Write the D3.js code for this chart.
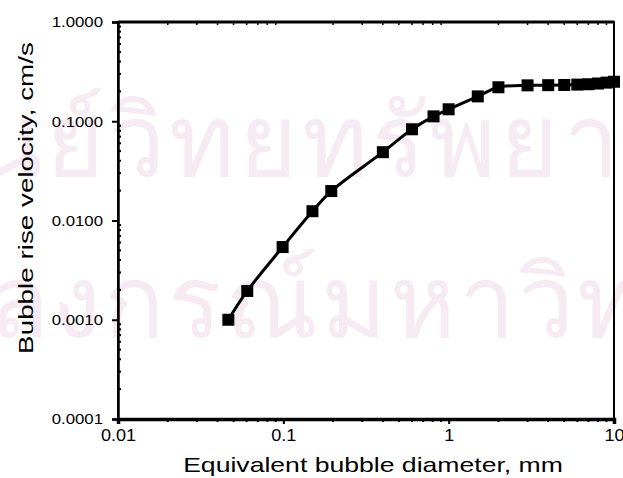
<!DOCTYPE html>
<html>
<head>
<meta charset="utf-8">
<script src="https://cdn.jsdelivr.net/npm/d3@7"></script>
<style>
  body { margin: 0; background: #fff; }
  text { font-family: "Liberation Sans", Arial, sans-serif; }
</style>
</head>
<body>
<script>
// bubble diameter (mm) and rise velocity (cm/s)
const diameter = [0.0465, 0.0605, 0.099, 0.15, 0.195, 0.4, 0.6, 0.81, 1.0, 1.5, 2.0, 3.0, 4.0, 5.0, 6.0, 7.0, 8.0, 9.0, 10.0];
const velocity = [0.001, 0.00195, 0.0054, 0.0124, 0.0198, 0.0488, 0.083, 0.112, 0.132, 0.178, 0.22, 0.23, 0.231, 0.232, 0.234, 0.236, 0.24, 0.245, 0.25];
const xTicks = [0.01, 0.1, 1, 10];
const yTicks = [0.0001, 0.001, 0.01, 0.1, 1];
const xLabels = ['0.01', '0.1', '1', '10'];
const yLabels = ['0.0001', '0.0010', '0.0100', '0.1000', '1.0000'];

const width = 623, height = 478;
const margin = { top: 22, right: 9, bottom: 59, left: 118 };
const w = width - margin.left - margin.right;
const h = height - margin.top - margin.bottom;

const svg = d3.select('body').append('svg')
  .attr('width', width)
  .attr('height', height);

// the scan is wider than tall, so text is stretched sideways
function stretch(sel, sx) {
  sel.each(function () {
    const t = d3.select(this);
    const ax = +t.attr('x') || 0;
    t.attr('transform', 'translate(' + ax + ',0) scale(' + sx + ',1) translate(' + (-ax) + ',0)');
  });
}

// faint watermark behind the chart
const wm = svg.append('g')
  .attr('fill', '#f6eaf3')
  .attr('font-family', 'sans-serif')
  .attr('font-size', 100);
wm.append('text')
  .attr('x', -26).attr('y', 176)
  .attr('letter-spacing', 4)
  .text('นย์วิทยทรัพยา');
wm.append('text')
  .attr('x', -12).attr('y', 337)
  .attr('letter-spacing', 3)
  .text('ลงกรณ์มหาวิทย');

const g = svg.append('g')
  .attr('transform', 'translate(' + margin.left + ',' + margin.top + ')');

const x = d3.scaleLog().domain([0.01, 10]).range([0, w]);
const y = d3.scaleLog().domain([0.0001, 1]).range([h, 0]);

const minorX = [];
const minorY = [];
for (let p = -2; p < 1; p++) for (let k = 2; k < 10; k++) minorX.push(k * Math.pow(10, p));
for (let p = -4; p < 0; p++) for (let k = 2; k < 10; k++) minorY.push(k * Math.pow(10, p));

// frame
g.append('rect')
  .attr('width', w).attr('height', h)
  .attr('fill', 'none')
  .attr('stroke', '#000')
  .attr('stroke-width', 2);
g.append('line')
  .attr('x1', 0).attr('x2', w)
  .attr('stroke', '#000').attr('stroke-width', 3);

// bottom axis
const xAxis = g.append('g').attr('transform', 'translate(0,' + h + ')');
xAxis.call(d3.axisBottom(x).tickValues(xTicks).tickSize(5).tickPadding(6).tickFormat((d, i) => xLabels[i]));
xAxis.selectAll('line.minor').data(minorX).enter().append('line')
  .attr('x1', d => x(d)).attr('x2', d => x(d))
  .attr('y1', 0).attr('y2', 3)
  .attr('stroke', '#000').attr('stroke-width', 2);
xAxis.select('.domain').attr('stroke-width', 3.5);
xAxis.selectAll('.tick line').attr('stroke-width', 2);
xAxis.selectAll('.tick text')
  .attr('font-size', 16)
  .attr('font-family', '"Liberation Sans", Arial, sans-serif')
  .attr('transform', 'scale(1.13,1)');

// top minor ticks
g.selectAll('line.topminor').data(minorX).enter().append('line')
  .attr('x1', d => x(d)).attr('x2', d => x(d))
  .attr('y1', 0).attr('y2', 3)
  .attr('stroke', '#000').attr('stroke-width', 1.5);

// left axis
const yAxis = g.append('g');
yAxis.call(d3.axisLeft(y).tickValues(yTicks).tickSize(6).tickPadding(9).tickFormat((d, i) => yLabels[i]));
yAxis.selectAll('line.minor').data(minorY).enter().append('line')
  .attr('x1', 0).attr('x2', 3)
  .attr('y1', d => y(d)).attr('y2', d => y(d))
  .attr('stroke', '#000').attr('stroke-width', 2);
yAxis.select('.domain').attr('stroke-width', 2.5);
yAxis.selectAll('.tick line').attr('stroke-width', 2);
yAxis.selectAll('.tick text')
  .attr('font-size', 15)
  .attr('font-family', '"Liberation Sans", Arial, sans-serif');
stretch(yAxis.selectAll('.tick text'), 1.12);

// curve
const pts = diameter.map((d, i) => [d, velocity[i]]);
g.append('path')
  .datum(pts)
  .attr('fill', 'none')
  .attr('stroke', '#000')
  .attr('stroke-width', 3)
  .attr('d', d3.line().x(d => x(d[0])).y(d => y(d[1])).curve(d3.curveCatmullRom));

// markers
const s = 12;
g.selectAll('.pt').data(pts).enter().append('rect')
  .attr('class', 'pt')
  .attr('x', d => x(d[0]) - s / 2)
  .attr('y', d => y(d[1]) - s / 2)
  .attr('width', s).attr('height', s)
  .attr('fill', '#000');

// axis titles
const xTitle = svg.append('text')
  .attr('text-anchor', 'middle')
  .attr('font-size', 20)
  .text('Equivalent bubble diameter, mm');
const xs = 380 / xTitle.node().getComputedTextLength();
xTitle.attr('transform', 'translate(373,472) scale(' + xs + ',1)');

const yTitle = svg.append('text')
  .attr('text-anchor', 'middle')
  .attr('font-size', 20)
  .text('Bubble rise velocity, cm/s');
const ys = 312 / yTitle.node().getComputedTextLength();
yTitle.attr('transform', 'translate(33,198) rotate(-90) scale(' + ys + ',1)');
</script>
</body>
</html>
